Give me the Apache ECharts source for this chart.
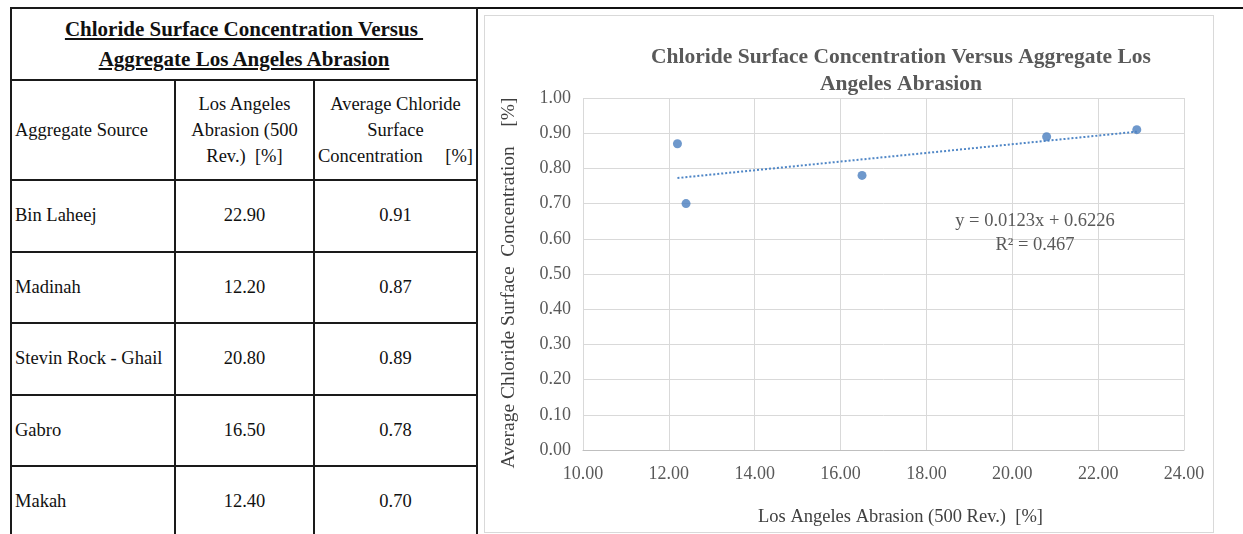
<!DOCTYPE html>
<html>
<head>
<meta charset="utf-8">
<script src="https://cdn.jsdelivr.net/npm/echarts@6/dist/echarts.min.js"></script>
<style>
  html, body { margin: 0; padding: 0; background: #fff; width: 1243px; height: 534px; overflow: hidden; }
  #topline { position: absolute; left: 10px; top: 7px; width: 1233px; height: 2px; background: #111; }
  table#tbl { position: absolute; left: 10px; top: 7px; border-collapse: collapse; table-layout: fixed;
    font-family: "Liberation Serif", "Times New Roman", serif; font-size: 18.5px; color: #111; }
  #tbl td { border: 2px solid #1a1a1a; padding: 0; }
  #tbl td.title { height: 70px; text-align: center; font-weight: bold; font-size: 21px; line-height: 30px; text-decoration: underline; }
  #tbl tr.hdr td { height: 98px; line-height: 26px; }
  #tbl tr.row td { height: 69.5px; }
  #tbl td.src { padding-left: 3px; text-align: left; white-space: nowrap; }
  #tbl td.num { text-align: center; }
  #tbl td.h1 { padding-left: 3px; }
  #tbl td.h2 { text-align: center; white-space: nowrap; }
  #tbl td.h3 { text-align: center; padding: 0 3px; white-space: nowrap; }
  .sb { display: flex; justify-content: space-between; }
  #chart { position: absolute; left: 484px; top: 15px; width: 728px; height: 516px; border: 1px solid #d9d9d9; background: #fff; }
</style>
</head>
<body>
<div id="topline"></div>
<table id="tbl">
  <colgroup><col style="width:164px"><col style="width:139px"><col style="width:163px"></colgroup>
  <tbody id="tbody">
    <tr><td class="title" colspan="3">Chloride Surface Concentration Versus&nbsp;<br>Aggregate Los Angeles Abrasion</td></tr>
    <tr class="hdr">
      <td class="h1">Aggregate Source</td>
      <td class="h2">Los Angeles<br>Abrasion (500<br>Rev.)&nbsp;&nbsp;[%]</td>
      <td class="h3">Average Chloride<br>Surface<br><span class="sb"><span>Concentration</span><span>[%]</span></span></td>
    </tr>
  </tbody>
</table>
<div id="chart"></div>
<script>
// ---- data ----
var sources = ["Bin Laheej", "Madinah", "Stevin Rock - Ghail", "Gabro", "Makah"];
var abrasion = [22.90, 12.20, 20.80, 16.50, 12.40];
var chloride = [0.91, 0.87, 0.89, 0.78, 0.70];
var trendSlope = 0.0123;
var trendIntercept = 0.6226;
var equationText = "y = 0.0123x + 0.6226";
var r2Text = "R\u00B2 = 0.467";
var chartTitle = "Chloride Surface Concentration Versus Aggregate Los\nAngeles Abrasion";
var xTitle = "Los Angeles Abrasion (500 Rev.)  [%]";
var yTitle = "Average Chloride Surface  Concentration    [%]";

// ---- table rows ----
var tb = document.getElementById('tbody');
for (var i = 0; i < sources.length; i++) {
  var tr = document.createElement('tr');
  tr.className = 'row';
  tr.innerHTML = '<td class="src">' + sources[i] + '</td><td class="num">' + abrasion[i].toFixed(2) +
    '</td><td class="num">' + chloride[i].toFixed(2) + '</td>';
  tb.appendChild(tr);
}

// ---- chart ----
var points = abrasion.map(function (x, i) { return [x, chloride[i]]; });
var xMinD = Math.min.apply(null, abrasion), xMaxD = Math.max.apply(null, abrasion);
var trend = [[xMinD, trendSlope * xMinD + trendIntercept], [xMaxD, trendSlope * xMaxD + trendIntercept]];

var FONT = '"Liberation Serif", "Times New Roman", serif';
var chart = echarts.init(document.getElementById('chart'), null, { renderer: 'canvas' });
chart.setOption({
  animation: false,
  backgroundColor: '#fff',
  grid: { left: 98, right: 29, top: 82, bottom: 82, show: false },
  xAxis: {
    type: 'value', min: 10, max: 24, interval: 2,
    name: xTitle, nameLocation: 'middle', nameGap: 58,
    nameTextStyle: { fontFamily: FONT, fontSize: 18.5, color: '#404040', padding: [0, 0, 0, 34] },
    axisLine: { show: true, lineStyle: { color: '#bfbfbf', width: 1 } },
    axisTick: { show: false },
    axisLabel: { formatter: function (v) { return v.toFixed(2); }, fontFamily: FONT, fontSize: 18, color: '#595959', margin: 15 },
    splitLine: { show: true, lineStyle: { color: '#d9d9d9', width: 1 } }
  },
  yAxis: {
    type: 'value', min: 0, max: 1, interval: 0.1,
    name: yTitle, nameLocation: 'middle', nameGap: 64, nameRotate: 90,
    nameTextStyle: { fontFamily: FONT, fontSize: 19.5, color: '#404040', padding: [0, 18, 0, 0] },
    axisLine: { show: false },
    axisTick: { show: false },
    axisLabel: { formatter: function (v) { return v.toFixed(2); }, fontFamily: FONT, fontSize: 18, color: '#595959', margin: 12 },
    splitLine: { show: true, lineStyle: { color: '#d9d9d9', width: 1 } }
  },
  series: [
    {
      type: 'line', data: trend, symbol: 'none', silent: true, z: 1,
      lineStyle: { color: '#4f86c6', width: 2, type: [2, 2] }
    },
    {
      type: 'scatter', data: points, symbol: 'circle', symbolSize: 9, z: 3,
      itemStyle: { color: '#4a7ebf' }
    }
  ],
  graphic: [
    { type: 'text', x: 416, y: 28, z: 10,
      style: { text: chartTitle, fontFamily: FONT, fontSize: 21.5, fontWeight: 'bold', fill: '#595959', textAlign: 'center', lineHeight: 27 } },
    { type: 'text', x: 550, y: 193, z: 10,
      style: { text: equationText + '\n' + r2Text, fontFamily: FONT, fontSize: 18.5, fill: '#595959', textAlign: 'center', lineHeight: 24 } }
  ]
});
</script>
</body>
</html>
